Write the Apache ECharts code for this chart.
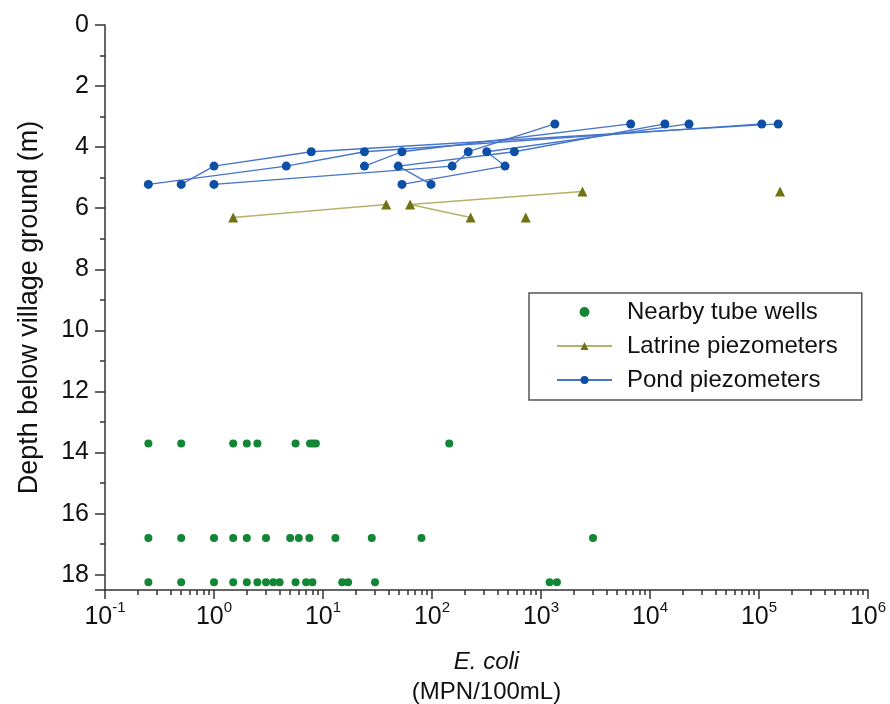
<!DOCTYPE html>
<html>
<head>
<meta charset="utf-8">
<script src="https://cdn.jsdelivr.net/npm/echarts@6/dist/echarts.min.js"></script>
<style>
html,body{margin:0;padding:0;background:#fff;}
#main{width:890px;height:704px;}
</style>
</head>
<body>
<div id="main"></div>
<script>
// tube wells: [E. coli, depth]
var wellDepths = [13.7, 16.8, 18.25];
var wellsShallow = [0.25, 0.5, 1.5, 2, 2.5, 5.6, 7.6, 8.1, 8.6, 144];
var wellsMid = [0.25, 0.5, 1, 1.5, 2, 3, 5, 6, 7.5, 13, 28, 80, 3000];
var wellsDeep = [0.25, 0.5, 1, 1.5, 2, 2.5, 3, 3.5, 4, 5.6, 7, 8, 15, 17, 30, 1200, 1400];

// latrine piezometers, each array is one connected line
var latrine = [
    [[1.5, 6.3], [38, 5.88]],
    [[226, 6.3], [63, 5.88], [2400, 5.45]],
    [[725, 6.3]],
    [[156000, 5.45]]
];

// pond piezometers, each array is one connected line
var pond = [
    [[0.5, 5.22], [1, 4.62], [7.8, 4.15], [150000, 3.24]],
    [[0.25, 5.22], [4.6, 4.62], [24, 4.15], [106000, 3.24]],
    [[1, 5.22], [153, 4.62], [215, 4.15], [1340, 3.24]],
    [[53, 5.22], [468, 4.62], [318, 4.15], [22800, 3.24]],
    [[98, 5.22], [49, 4.62], [570, 4.15], [13700, 3.24]],
    [[24, 4.62], [53, 4.15], [6650, 3.24]]
];

var xMajor = [0.1, 1, 10, 100, 1000, 10000, 100000, 1000000];
var xMinor = [];
xMajor.slice(0, 7).forEach(function(d){
    for(var k = 2; k <= 9; k++){
        xMinor.push(+(d * k).toPrecision(3));
    }
});

var font = '"Liberation Sans", Arial, sans-serif';
var axisColor = '#333';

function wellPoints(){
    var arr = [];
    [wellsShallow, wellsMid, wellsDeep].forEach(function(row, i){
        row.forEach(function(v){ arr.push([v, wellDepths[i]]); });
    });
    return arr;
}

var series = [{
    name: 'Nearby tube wells',
    type: 'scatter',
    symbol: 'circle',
    symbolSize: 8,
    itemStyle: {color: '#138636', opacity: 1},
    data: wellPoints(),
    z: 3
}];
latrine.forEach(function(d){
    series.push({
        name: 'Latrine piezometers',
        type: 'line',
        symbol: 'triangle',
        symbolSize: 10,
        showAllSymbol: true,
        lineStyle: {color: '#b3b36a', width: 1.5},
        itemStyle: {color: '#727214'},
        data: d,
        z: 2
    });
});
pond.forEach(function(d){
    series.push({
        name: 'Pond piezometers',
        type: 'line',
        symbol: 'circle',
        symbolSize: 9,
        showAllSymbol: true,
        lineStyle: {color: '#4474cc', width: 1.3},
        itemStyle: {color: '#0e4fa6'},
        data: d,
        z: 2
    });
});

var chart = echarts.init(document.getElementById('main'));
chart.setOption({
    animation: false,
    backgroundColor: '#fff',
    textStyle: {fontFamily: font},
    grid: {left: 105, right: 22, top: 25, bottom: 114, outerBoundsMode: 'none', containLabel: false},
    legend: {
        data: ['Nearby tube wells', 'Latrine piezometers', 'Pond piezometers'],
        orient: 'vertical',
        left: 529,
        top: 293,
        padding: [7, 24, 8, 27],
        itemGap: 10,
        itemWidth: 55,
        itemHeight: 10,
        borderColor: '#555',
        borderWidth: 1.5,
        borderRadius: 0,
        textStyle: {fontFamily: font, fontSize: 24, color: '#111', padding: [0, 0, 0, 10]}
    },
    xAxis: [{
        type: 'log',
        logBase: 10,
        min: 0.1,
        max: 1000000,
        position: 'bottom',
        name: '{i|E. coli}\n{n|(MPN/100mL)}',
        nameLocation: 'middle',
        nameGap: 57,
        nameTextStyle: {
            rich: {
                i: {fontFamily: font, fontSize: 24, fontStyle: 'italic', color: '#111', lineHeight: 30},
                n: {fontFamily: font, fontSize: 24, color: '#111', lineHeight: 30}
            }
        },
        axisLine: {onZero: false, lineStyle: {color: axisColor, width: 1.5}},
        axisTick: {show: true, length: 9, lineStyle: {color: axisColor, width: 1.5}},
        splitLine: {show: false},
        axisLabel: {
            margin: 10,
            color: '#111',
            formatter: function(v){
                var e = Math.round(Math.log10(v));
                return '{b|10}{s|' + e + '}';
            },
            rich: {
                b: {fontFamily: font, fontSize: 25, color: '#111', verticalAlign: 'bottom', lineHeight: 30},
                s: {fontFamily: font, fontSize: 15, color: '#111', verticalAlign: 'top', lineHeight: 30, padding: [0, 0, 12, 0]}
            }
        }
    }, {
        type: 'log',
        logBase: 10,
        min: 0.1,
        max: 1000000,
        position: 'bottom',
        axisLine: {show: false, onZero: false},
        axisLabel: {show: false},
        splitLine: {show: false},
        axisTick: {show: true, length: 5, customValues: xMinor, lineStyle: {color: axisColor, width: 1.5}}
    }],
    yAxis: {
        type: 'value',
        inverse: true,
        min: 0,
        max: 18.5,
        interval: 2,
        name: 'Depth below village ground (m)',
        nameLocation: 'middle',
        nameGap: 62,
        nameTextStyle: {fontFamily: font, fontSize: 27, color: '#111'},
        axisLine: {show: true, onZero: false, lineStyle: {color: axisColor, width: 1.5}},
        axisTick: {show: true, length: 10, lineStyle: {color: axisColor, width: 1.5}},
        minorTick: {show: true, splitNumber: 2, length: 5, lineStyle: {color: axisColor, width: 1.5}},
        splitLine: {show: false},
        axisLabel: {margin: 16, fontSize: 25, color: '#111', fontFamily: font, showMaxLabel: false}
    },
    series: series
});
</script>
</body>
</html>
